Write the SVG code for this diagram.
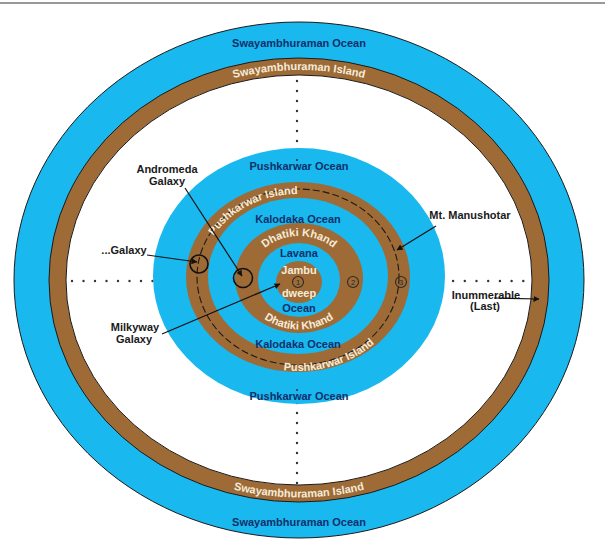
<svg xmlns="http://www.w3.org/2000/svg" width="605" height="551" viewBox="0 0 605 551">
<style>
.ocean{fill:#19b8ee}
.land{fill:#9e6b37}
.edge{stroke:#1a1a1a;stroke-width:1}
.t{font-family:"Liberation Sans",Arial,sans-serif;font-weight:bold;font-size:11px}
.navy{fill:#10306b}
.cream{fill:#f5ecda}
.blk{fill:#1a1a1a}
.dot{fill:#333}
.lead{stroke:#111;stroke-width:1.2;fill:none}
.gal{stroke:#111;stroke-width:1.6;fill:none}
.num{stroke:#2a2a2a;stroke-width:1.1;fill:none}
.numt{font-family:"Liberation Sans",Arial,sans-serif;font-size:7.5px;fill:#2a2a2a;text-anchor:middle}
</style>
<defs>
<marker id="ah" markerWidth="6" markerHeight="6" refX="5.5" refY="3" orient="auto" markerUnits="userSpaceOnUse"><path d="M0,0 L6,3 L0,6 z" fill="#111"/></marker>
<path id="pSwTop" d="M62,280 A237 210 0 0 1 536,280"/>
<path id="pSwBot" d="M54,280 A245 217.5 0 0 0 544,280"/>
<path id="pPkTop" d="M201,277 A97 83 0 0 1 340.5,202.4"/>
<path id="pPkBot" d="M228.6,349 A108 94 0 0 0 404.4,293.3"/>
<path id="pDhTop" d="M250.5,278 A48.5 42 0 0 1 347.5,278"/>
<path id="pDhBot" d="M242.5,278 A56.5 51.5 0 0 0 355.5,278"/>
</defs>
<line x1="0" y1="3" x2="605" y2="3" stroke="#999" stroke-width="2"/>

<g id="swayambhuraman-ocean">
<ellipse class="ocean edge" cx="299" cy="280" rx="285" ry="258"/>
<text class="t navy" x="299" y="47" text-anchor="middle">Swayambhuraman Ocean</text>
<text class="t navy" x="299" y="526" text-anchor="middle">Swayambhuraman Ocean</text>
</g>
<g id="swayambhuraman-island">
<ellipse class="land edge" cx="299" cy="280" rx="250" ry="222"/>
<ellipse class="edge" fill="#fff" cx="299" cy="280" rx="233" ry="205"/>
<text class="t cream"><textPath href="#pSwTop" startOffset="50%" text-anchor="middle">Swayambhuraman Island</textPath></text>
<text class="t cream"><textPath href="#pSwBot" startOffset="50%" text-anchor="middle">Swayambhuraman Island</textPath></text>
</g>

<g id="dotted-lines">
<g class="dot">
<circle cx="297" cy="81" r="1.2"/><circle cx="297" cy="91" r="1.2"/><circle cx="297" cy="101" r="1.2"/><circle cx="297" cy="111" r="1.2"/><circle cx="297" cy="121" r="1.2"/><circle cx="297" cy="131" r="1.2"/><circle cx="297" cy="141" r="1.2"/><circle cx="297" cy="151" r="1.2"/>
<circle cx="297" cy="403" r="1.2"/><circle cx="297" cy="413" r="1.2"/><circle cx="297" cy="423" r="1.2"/><circle cx="297" cy="433" r="1.2"/><circle cx="297" cy="443" r="1.2"/><circle cx="297" cy="453" r="1.2"/><circle cx="297" cy="463" r="1.2"/><circle cx="297" cy="473" r="1.2"/><circle cx="297" cy="483" r="1.2"/>
<circle cx="72" cy="281" r="1.2"/><circle cx="83.5" cy="281" r="1.2"/><circle cx="95" cy="281" r="1.2"/><circle cx="106.5" cy="281" r="1.2"/><circle cx="118" cy="281" r="1.2"/><circle cx="129.5" cy="281" r="1.2"/><circle cx="141" cy="281" r="1.2"/><circle cx="152.5" cy="281" r="1.2"/><circle cx="164" cy="281" r="1.2"/><circle cx="175.5" cy="281" r="1.2"/>
<circle cx="418" cy="281" r="1.2"/><circle cx="429.7" cy="281" r="1.2"/><circle cx="441.4" cy="281" r="1.2"/><circle cx="453.1" cy="281" r="1.2"/><circle cx="464.8" cy="281" r="1.2"/><circle cx="476.5" cy="281" r="1.2"/><circle cx="488.2" cy="281" r="1.2"/><circle cx="499.9" cy="281" r="1.2"/><circle cx="511.6" cy="281" r="1.2"/><circle cx="523.3" cy="281" r="1.2"/>
</g>
</g>

<g id="pushkarwar-ocean">
<ellipse class="ocean" cx="299" cy="276" rx="146" ry="128"/>
<text class="t navy" x="299" y="170" text-anchor="middle">Pushkarwar Ocean</text>
<text class="t navy" x="299" y="400" text-anchor="middle">Pushkarwar Ocean</text>
<circle class="dot" cx="297" cy="160" r="1.1"/>
<circle class="dot" cx="297" cy="390" r="1.1"/>
</g>
<g id="pushkarwar-island">
<ellipse class="land" cx="298" cy="277" rx="112" ry="95"/>
</g>
<g id="kalodaka-ocean">
<ellipse class="ocean" cx="298" cy="276" rx="90" ry="78"/>
<text class="t navy" x="298" y="223" text-anchor="middle">Kalodaka Ocean</text>
<text class="t navy" x="298" y="348" text-anchor="middle">Kalodaka Ocean</text>
</g>
<g id="mt-manushotar">
<ellipse cx="298" cy="277" rx="101" ry="88" fill="none" stroke="#1a1a1a" stroke-width="1.1" stroke-dasharray="7 3"/>
</g>
<g id="pushkarwar-island-labels">
<text class="t cream" font-size="10"><textPath href="#pPkTop" startOffset="50%" text-anchor="middle">Pushkarwar Island</textPath></text>
<text class="t cream" font-size="10"><textPath href="#pPkBot" startOffset="50%" text-anchor="middle">Pushkarwar Island</textPath></text>
</g>
<g id="dhatiki-khand">
<ellipse class="land" cx="299" cy="278" rx="64" ry="55"/>
<text class="t cream" font-size="10"><textPath href="#pDhTop" startOffset="50%" text-anchor="middle">Dhatiki Khand</textPath></text>
<text class="t cream" font-size="10"><textPath href="#pDhBot" startOffset="50%" text-anchor="middle">Dhatiki Khand</textPath></text>
</g>
<g id="lavana-ocean">
<ellipse class="ocean" cx="299" cy="280" rx="41" ry="37"/>
<text class="t navy" x="299" y="257" text-anchor="middle">Lavana</text>
<text class="t navy" x="299" y="312" text-anchor="middle">Ocean</text>
</g>
<g id="jambu-dweep">
<ellipse class="land" cx="299" cy="282" rx="23" ry="21"/>
<text class="t cream" x="299" y="274" text-anchor="middle">Jambu</text>
<text class="t cream" x="299" y="297" text-anchor="middle">dweep</text>
</g>

<g id="markers">
<circle class="num" cx="298" cy="282" r="5.5"/><text class="numt" x="298" y="284.8">1</text>
<circle class="num" cx="353" cy="282" r="5.5" fill="#6e4a24"/><text class="numt" x="353" y="284.8">2</text>
<circle class="num" cx="401" cy="282" r="5.5" fill="#6e4a24"/><text class="numt" x="401" y="284.8">3</text>
</g>

<g id="galaxy">
<circle class="gal" cx="199" cy="264" r="9"/>
<text class="t blk" x="124" y="254" text-anchor="middle">...Galaxy</text>
</g>
<g id="andromeda-galaxy">
<circle class="gal" cx="243" cy="278" r="9.5"/>
<text class="t blk" x="167" y="173" text-anchor="middle">Andromeda</text>
<text class="t blk" x="167" y="185" text-anchor="middle">Galaxy</text>
</g>
<g id="milkyway-galaxy">
<text class="t blk" x="135" y="331" text-anchor="middle">Milkyway</text>
<text class="t blk" x="134" y="343" text-anchor="middle">Galaxy</text>
</g>
<g id="mt-manushotar-label">
<text class="t blk" x="470" y="219" text-anchor="middle">Mt. Manushotar</text>
</g>
<g id="inummerable">
<text class="t blk" x="486" y="299" text-anchor="middle">Inummerable</text>
<text class="t blk" x="485" y="310" text-anchor="middle">(Last)</text>
</g>

<g id="connectors">
<path class="lead" d="M147,255 L197,262" marker-end="url(#ah)"/>
<path class="lead" d="M185,188 L242,276" marker-end="url(#ah)"/>
<path class="lead" d="M162,334 L280,284" marker-end="url(#ah)"/>
<path class="lead" d="M436,226 L397,250" marker-end="url(#ah)"/>
<path class="lead" d="M494,298 L539,299" marker-end="url(#ah)"/>
</g>
</svg>
